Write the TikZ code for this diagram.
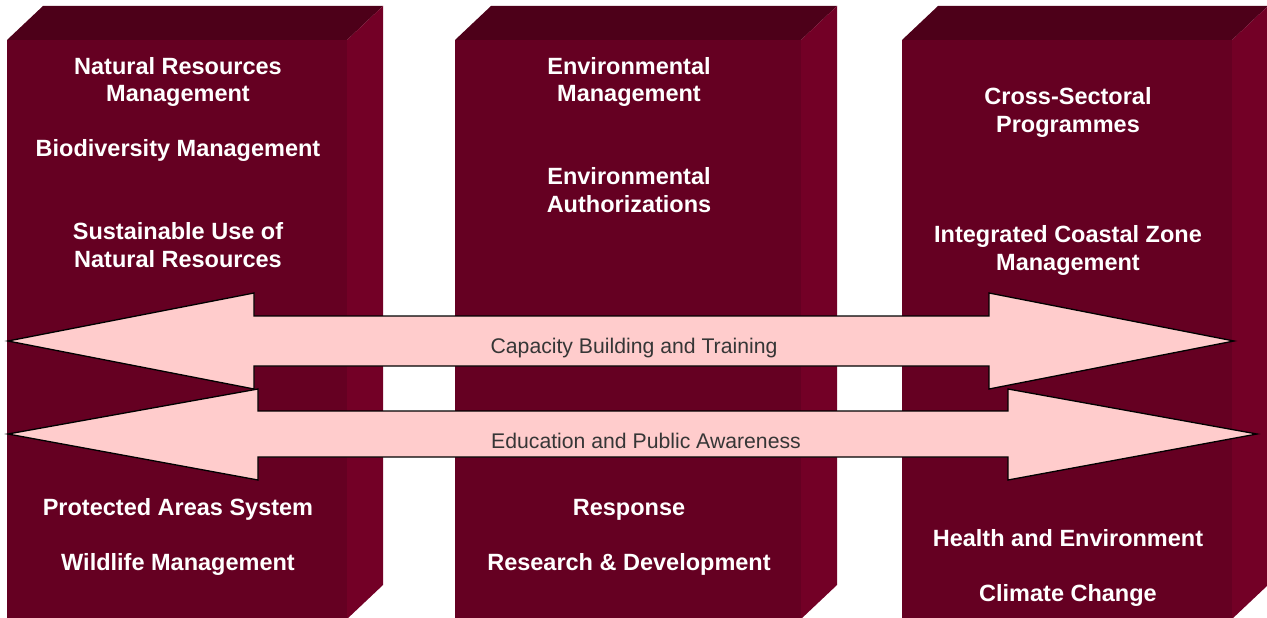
\documentclass[tikz,border=0pt]{standalone}
\usepackage{fontspec}
\setmainfont{Liberation Sans}
\usepackage{xcolor}
\definecolor{pillarfront}{HTML}{650022}
\definecolor{pillartop}{HTML}{4D0019}
\definecolor{pillarside}{HTML}{730026}
\definecolor{bandpink}{HTML}{FFCCCC}
\definecolor{bandtext}{HTML}{363636}

\begin{document}
\begin{tikzpicture}[x=1pt,y=-1pt,
  topic/.style={anchor=base,align=center,inner sep=0pt,text=white,font=\bfseries\fontsize{23.5}{28}\selectfont},
  bandlabel/.style={anchor=base,inner sep=0pt,text=bandtext,font=\fontsize{21.2}{25}\selectfont},
  band/.style={fill=bandpink,draw=black,line width=1.3pt}]
\useasboundingbox(0,0)rectangle(1267,618);
\clip(0,0)rectangle(1267,618);
\foreach \l/\r in {7/347,455/801,902/1232}{
  \fill[pillarfront](\l,40)rectangle(\r,619);
  \fill[pillartop](\l,40)--(\l+36,6)--(\r+36,6)--(\r,40)--cycle;
  \fill[pillarside](\r,40)--(\r+36,6)--(\r+36,585)--(\r,619)--cycle;
}
% two-line labels sit on the baseline of their last line
\node[topic](nrm)at(178,102){Natural Resources\\Management};
\node[topic](bio)at(178,156){Biodiversity Management};
\node[topic](sus)at(178,267){Sustainable Use of\\Natural Resources};
\node[topic](pas)at(178,515){Protected Areas System};
\node[topic](wlm)at(178,570){Wildlife Management};
\node[topic](envm)at(629,102){Environmental\\Management};
\node[topic](enva)at(629,212){Environmental\\Authorizations};
\node[topic](resp)at(629,515){Response};
\node[topic](rnd)at(629,570){Research \& Development};
\node[topic](csp)at(1068,132){Cross-Sectoral\\Programmes};
\node[topic](iczm)at(1068,270){Integrated Coastal Zone\\Management};
\node[topic](hae)at(1068,546){Health and Environment};
\node[topic](clim)at(1068,601){Climate Change};
\draw[band](8,341)--(254,293)--(254,316)--(989,316)--(989,293)--(1234,341)--(989,389)--(989,366)--(254,366)--(254,389)--cycle;
\draw[band](8,434)--(258,389)--(258,411)--(1008,411)--(1008,389)--(1257,434)--(1008,480)--(1008,457)--(258,457)--(258,480)--cycle;
\node[bandlabel](cbt)at(634,353){Capacity Building and Training};
\node[bandlabel](epa)at(646,448){Education and Public Awareness};
\end{tikzpicture}
\end{document}
